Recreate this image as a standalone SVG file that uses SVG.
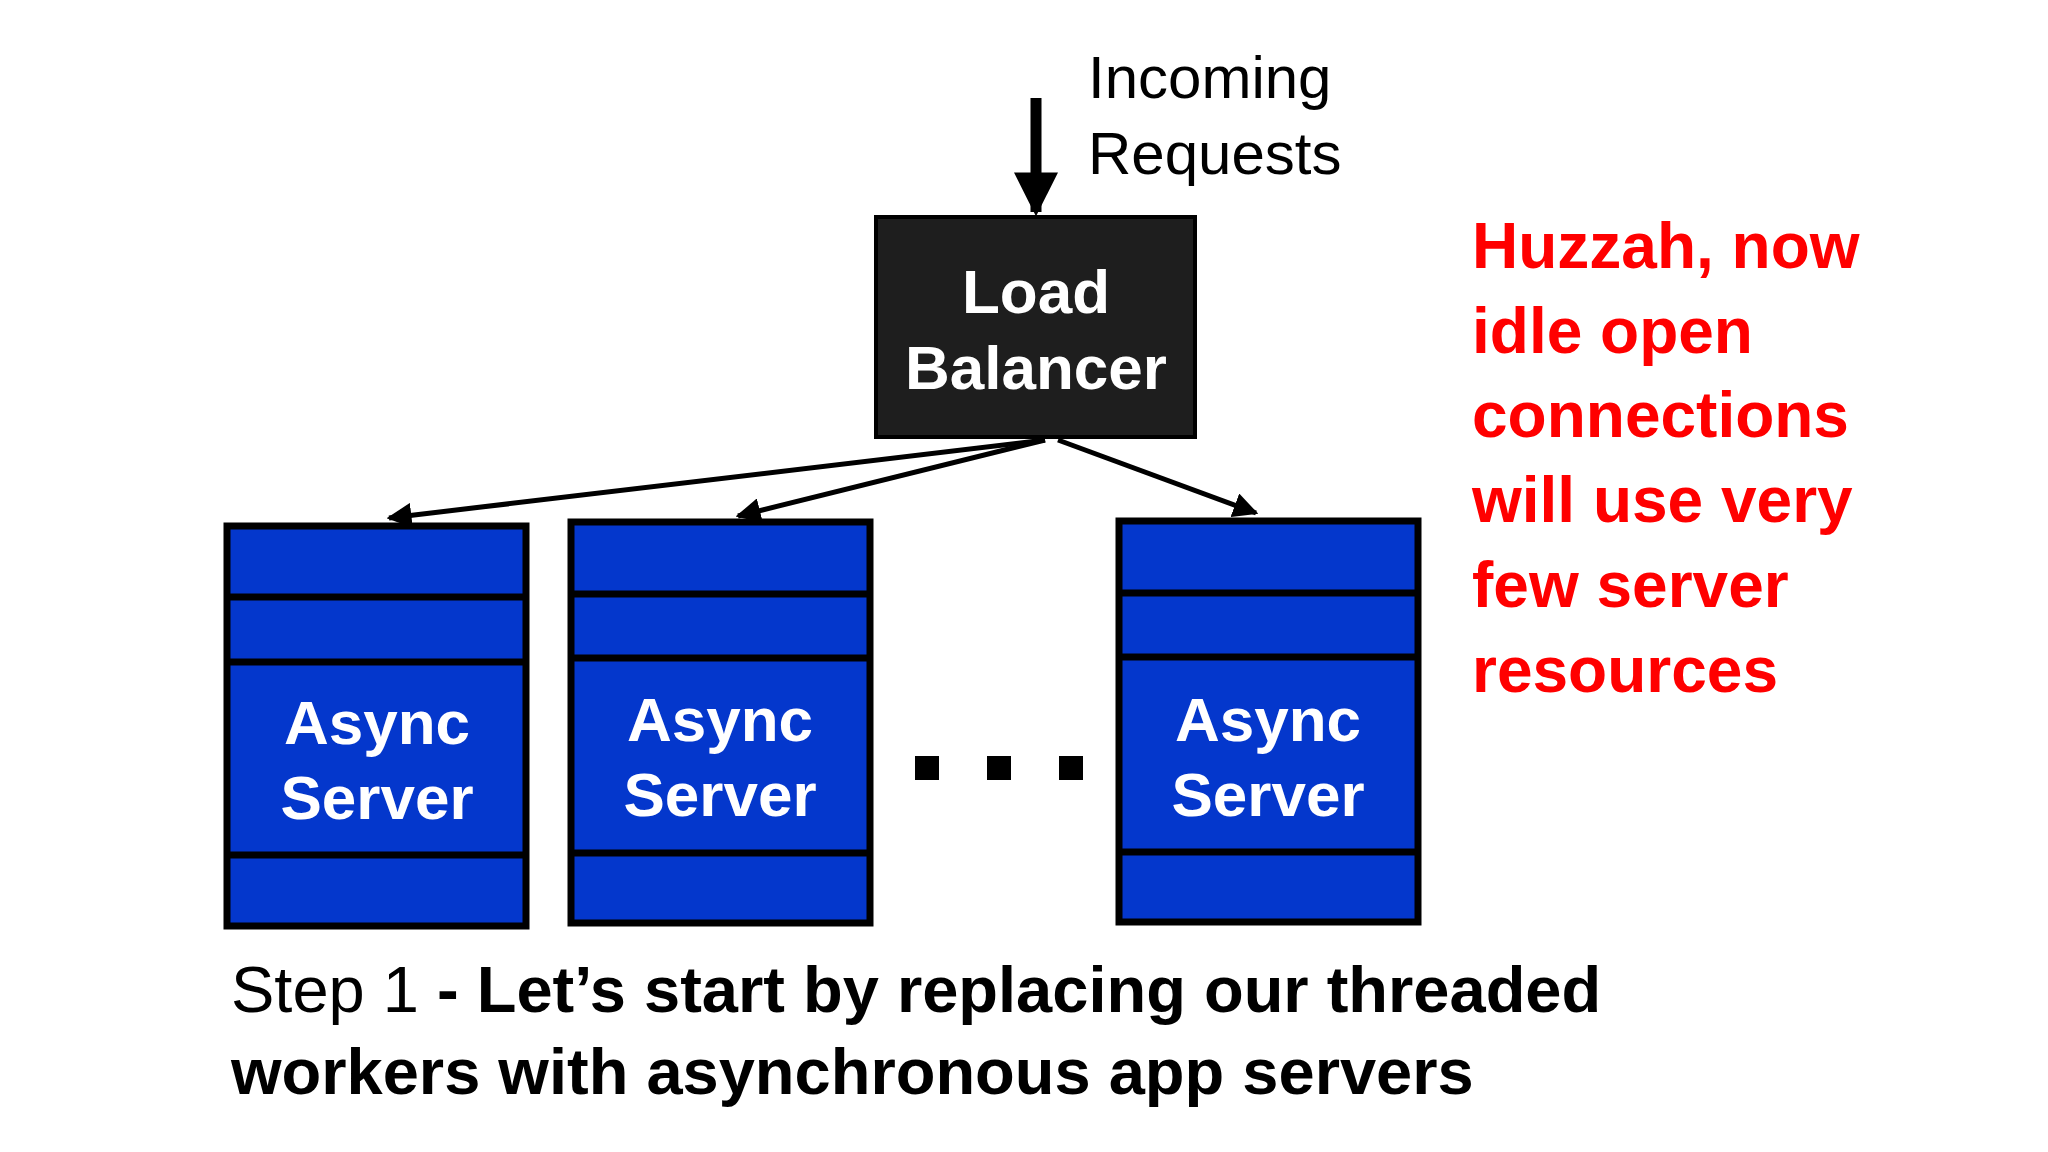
<svg xmlns="http://www.w3.org/2000/svg" width="2048" height="1152" viewBox="0 0 2048 1152">
<style>
.srv rect{fill:#0437cc;stroke:#000;stroke-width:7}
.srv line{stroke:#000;stroke-width:7}
.wt{font-family:"Liberation Sans",Arial,sans-serif;font-weight:bold;font-size:62px;fill:#fff;text-anchor:middle}
.red{font-family:"Liberation Sans",Arial,sans-serif;font-weight:bold;font-size:64px;fill:#ff0000}
.bt{font-family:"Liberation Sans",Arial,sans-serif;font-size:65px;fill:#000}
.con line{stroke:#000;stroke-width:5}
</style>
<defs>
<marker id="ah" viewBox="0 0 10 10" refX="9" refY="5" markerWidth="5" markerHeight="5" orient="auto" markerUnits="strokeWidth"><path d="M0,0 L10,5 L0,10 z" fill="#000"/></marker>
<marker id="ah2" viewBox="0 0 10 10" refX="9" refY="5" markerWidth="4" markerHeight="4" orient="auto" markerUnits="strokeWidth"><path d="M0,0 L10,5 L0,10 z" fill="#000"/></marker>
</defs>
<rect width="2048" height="1152" fill="#fff"/>
<g id="incoming">
<text x="1088" y="98" font-family="Liberation Sans,Arial,sans-serif" font-size="60">Incoming</text>
<text x="1088" y="174" font-family="Liberation Sans,Arial,sans-serif" font-size="60">Requests</text>
</g>
<g id="lb">
<rect x="876" y="217" width="319" height="220" fill="#1e1e1e" stroke="#000" stroke-width="4"/>
<text class="wt" x="1036" y="313">Load</text>
<text class="wt" x="1036" y="389">Balancer</text>
</g>
<g id="s1" class="srv">
<rect x="227" y="526" width="299" height="400"/>
<line x1="227" y1="597" x2="526" y2="597"/><line x1="227" y1="662" x2="526" y2="662"/><line x1="227" y1="855" x2="526" y2="855"/>
<text class="wt" x="377" y="744">Async</text><text class="wt" x="377" y="819">Server</text>
</g>
<g id="s2" class="srv">
<rect x="571" y="522" width="299" height="401"/>
<line x1="571" y1="594" x2="870" y2="594"/><line x1="571" y1="658" x2="870" y2="658"/><line x1="571" y1="853" x2="870" y2="853"/>
<text class="wt" x="720" y="741">Async</text><text class="wt" x="720" y="816">Server</text>
</g>
<g id="s3" class="srv">
<rect x="1119" y="521" width="299" height="401"/>
<line x1="1119" y1="593" x2="1418" y2="593"/><line x1="1119" y1="657" x2="1418" y2="657"/><line x1="1119" y1="852" x2="1418" y2="852"/>
<text class="wt" x="1268" y="741">Async</text><text class="wt" x="1268" y="816">Server</text>
</g>
<g id="dots" fill="#000">
<rect x="915" y="756" width="24" height="24"/><rect x="987" y="756" width="24" height="24"/><rect x="1059" y="756" width="24" height="24"/>
</g>
<g class="con" id="connectors">
<line x1="1036" y1="98" x2="1036" y2="212" stroke-width="11" marker-end="url(#ah2)" style="stroke-width:11"/>
<line x1="1045" y1="440" x2="389" y2="518" marker-end="url(#ah)"/>
<line x1="1045" y1="440" x2="738" y2="516" marker-end="url(#ah)"/>
<line x1="1058" y1="440" x2="1256" y2="513" marker-end="url(#ah)"/>
</g>
<g id="note">
<text class="red" x="1472" y="268">Huzzah, now</text>
<text class="red" x="1472" y="353">idle open</text>
<text class="red" x="1472" y="437">connections</text>
<text class="red" x="1472" y="522">will use very</text>
<text class="red" x="1472" y="607">few server</text>
<text class="red" x="1472" y="692">resources</text>
</g>
<g id="caption">
<text class="bt" x="231" y="1012">Step 1 <tspan font-weight="bold">- Let’s start by replacing our threaded</tspan></text>
<text class="bt" x="231" y="1094" font-weight="bold">workers with asynchronous app servers</text>
</g>
</svg>
